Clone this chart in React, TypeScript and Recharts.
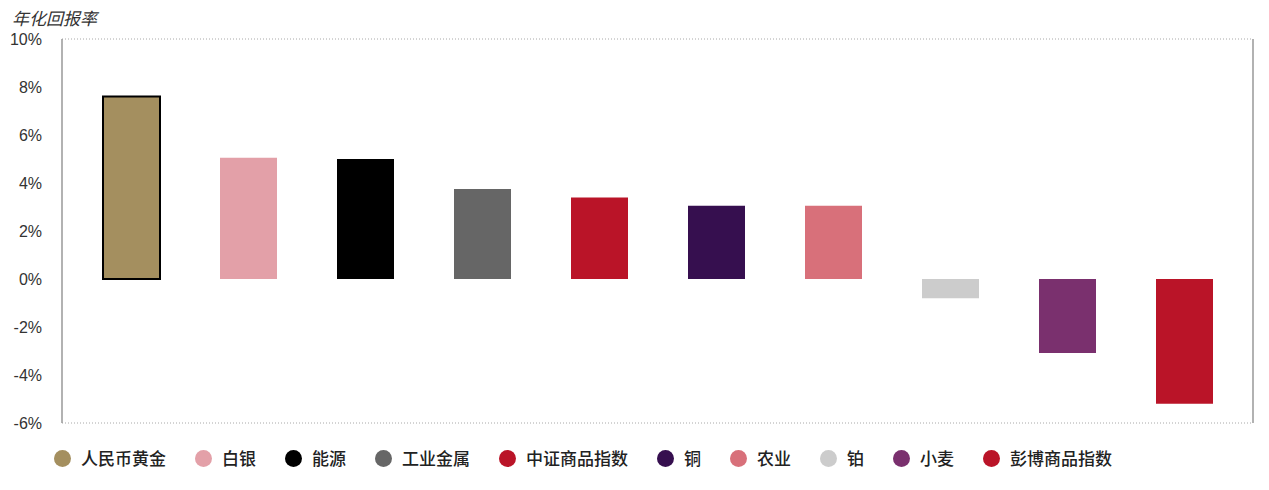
import React from 'react';
import { BarChart, Bar, Cell, XAxis, YAxis, CartesianGrid } from 'recharts';

// categories, values (annualised return, %) and colours
const categories = ['人民币黄金', '白银', '能源', '工业金属', '中证商品指数', '铜', '农业', '铂', '小麦', '彭博商品指数'];
const returns = [7.6, 5.05, 5.0, 3.75, 3.4, 3.05, 3.05, -0.8, -3.08, -5.2];
const colors = ['#A48F5F', '#E3A0A8', '#000000', '#666666', '#BA1428', '#360F4F', '#D8707A', '#CCCCCC', '#7A306E', '#BA1428'];
const yTicks = [-6, -4, -2, 0, 2, 4, 6, 8, 10];

const data = categories.map((name, i) => ({ name, value: returns[i] }));

const font = '"Liberation Sans", Arial, sans-serif';
const cjk = '"Noto Sans CJK SC", "Liberation Sans", sans-serif';

const App: React.FC = () => {
  return (
    <div style={{ position: 'relative', width: 1261, height: 482, fontFamily: font }}>
      <div
        style={{
          position: 'absolute',
          left: 4,
          top: 0,
          fontFamily: cjk,
          fontStyle: 'italic',
          fontSize: 17,
          color: '#333',
          lineHeight: '20px',
        }}
      >
        年化回报率
      </div>
      <BarChart
        width={1261}
        height={440}
        data={data}
        margin={{ top: 31, right: 15, left: 0, bottom: 25 }}
        style={{ position: 'absolute', left: 0, top: 0 }}
      >
        <CartesianGrid horizontal vertical={false} stroke="#a8a8a8" strokeDasharray="1 2" />
        <XAxis dataKey="name" hide padding={{ left: 11, right: 10 }} />
        <YAxis
          yAxisId="left"
          domain={[-6, 10]}
          ticks={yTicks}
          width={54}
          tickLine={false}
          tickSize={0}
          tickMargin={20}
          tickFormatter={(v: number) => `${v}%`}
          tick={{ fill: '#333', fontSize: 16, fontFamily: font }}
          axisLine={{ stroke: '#999999', strokeWidth: 1.5 }}
          interval={0}
        />
        <YAxis
          yAxisId="right"
          orientation="right"
          domain={[-6, 10]}
          width={1}
          tick={false}
          tickLine={false}
          axisLine={{ stroke: '#999999', strokeWidth: 1.5 }}
        />
        <Bar yAxisId="left" dataKey="value" barSize={57} isAnimationActive={false}>
          {data.map((d, i) => (
            <Cell
              key={d.name}
              fill={colors[i]}
              stroke={i === 0 ? '#000' : 'none'}
              strokeWidth={i === 0 ? 2 : 0}
            />
          ))}
        </Bar>
      </BarChart>
      <div
        style={{
          position: 'absolute',
          left: 46,
          top: 439,
          display: 'flex',
          alignItems: 'center',
          gap: 29,
          fontFamily: cjk,
          fontSize: 17,
          fontWeight: 500,
          color: '#222',
        }}
      >
        {categories.map((c, i) => (
          <div key={c} style={{ display: 'flex', alignItems: 'center' }}>
            <span
              style={{
                display: 'inline-block',
                width: 17,
                height: 17,
                borderRadius: '50%',
                background: colors[i],
                marginRight: 10,
              }}
            />
            <span style={{ lineHeight: '22px' }}>{c}</span>
          </div>
        ))}
      </div>
    </div>
  );
};

export default App;
